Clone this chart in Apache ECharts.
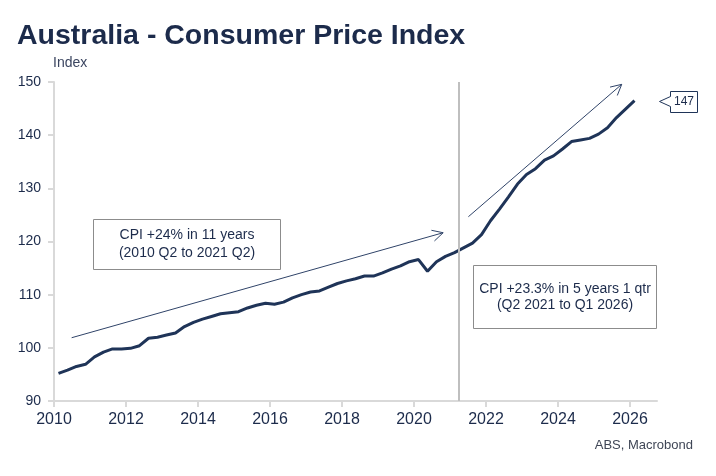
<!DOCTYPE html>
<html>
<head>
<meta charset="utf-8">
<script src="https://cdn.jsdelivr.net/npm/echarts@6/dist/echarts.min.js"></script>
<style>
  html, body { margin: 0; padding: 0; background: #fff; }
  #chart { width: 716px; height: 476px; }
</style>
</head>
<body>
<div id="chart"></div>
<script>
// quarterly CPI, 2010 Q1 .. 2026 Q1
const firstYear = 2010;
const cpi = [
  95.2, 95.8, 96.5, 96.9,
  98.3, 99.2, 99.8, 99.8,
  99.9, 100.4, 101.8, 102.0,
  102.4, 102.8, 104.0, 104.8,
  105.4, 105.9, 106.4, 106.6,
  106.8, 107.5, 108.0, 108.4,
  108.2, 108.6, 109.4, 110.0,
  110.5, 110.7, 111.4, 112.1,
  112.6, 113.0, 113.5, 113.5,
  114.1, 114.8, 115.4, 116.2,
  116.6, 114.4, 116.2, 117.2,
  117.9, 118.8, 119.7, 121.3,
  123.9, 126.1, 128.4, 130.8,
  132.6, 133.7, 135.3, 136.1,
  137.4, 138.8, 139.1, 139.4,
  140.2, 141.4, 143.3, 144.9,
  146.5
];
const yTicks = [90, 100, 110, 120, 130, 140, 150];
const breakYear = 2021.25;
const lastLabel = '147';

// arrows: [x1, y1, x2, y2] in year / index units
const arrows = [
  [2010.49, 101.9, 2020.81, 121.65],
  [2021.51, 124.66, 2025.77, 149.56]
];
// note boxes: centre in year / index units
const noteCentres = [[2013.69, 119.5], [2024.19, 109.65]];
const noteTexts = [
  'CPI +24% in 11 years\n(2010 Q2 to 2021 Q2)',
  'CPI +23.3% in 5 years 1 qtr\n(Q2 2021 to Q1 2026)'
];
const noteSizes = [[187, 50], [183, 63]];
const noteLineHeights = [18, 16];

const navy = '#1f3458';
const textNavy = '#1c2b4b';
const seriesData = cpi.map((v, i) => [firstYear + i * 0.25 + 0.125, v]);
const last = seriesData[seriesData.length - 1];

const chart = echarts.init(document.getElementById('chart'));

chart.setOption({
  animation: false,
  textStyle: { fontFamily: 'Liberation Sans' },
  grid: { left: 54, right: 59, top: 82, bottom: 75, containLabel: false },
  graphic: [
    {
      type: 'text', left: 17, top: 22,
      style: { text: 'Australia - Consumer Price Index', fontSize: 28.5, fontWeight: 'bold', fill: textNavy, fontFamily: 'Liberation Sans' }
    },
    {
      type: 'text', left: 53, top: 56,
      style: { text: 'Index', fontSize: 14, fill: '#3b4560', fontFamily: 'Liberation Sans' }
    },
    {
      type: 'text', right: 23, top: 439,
      style: { text: 'ABS, Macrobond', fontSize: 13, fill: '#3f4656', fontFamily: 'Liberation Sans' }
    }
  ],
  xAxis: {
    type: 'value',
    min: 2010,
    max: 2026.75,
    interval: 2,
    splitLine: { show: false },
    axisLine: { lineStyle: { color: '#d9d9d9', width: 2 } },
    axisTick: { length: 6, lineStyle: { color: '#d9d9d9', width: 2 } },
    axisLabel: {
      margin: 11, fontSize: 16, color: textNavy,
      formatter: v => (v % 2 === 0 ? String(v) : ''),
      showMaxLabel: false
    }
  },
  yAxis: {
    type: 'value',
    min: yTicks[0],
    max: yTicks[yTicks.length - 1],
    interval: 10,
    splitLine: { show: false },
    axisLine: { show: true, lineStyle: { color: '#d9d9d9', width: 2 } },
    axisTick: { show: true, length: 6, lineStyle: { color: '#d9d9d9', width: 2 } },
    axisLabel: { margin: 13, fontSize: 14, color: textNavy }
  },
  series: [
    {
      type: 'line',
      data: seriesData,
      showSymbol: false,
      lineStyle: { color: navy, width: 3 },
      z: 3,
      markLine: {
        silent: true,
        symbol: 'none',
        label: { show: false },
        lineStyle: { color: '#bfbfbf', width: 2, type: 'solid' },
        data: [{ xAxis: breakYear }]
      }
    },
    {
      // arrows
      type: 'custom',
      silent: true,
      data: arrows,
      encode: { x: [0, 2], y: [1, 3] },
      z: 2,
      renderItem: (params, api) => {
        const p1 = api.coord([api.value(0), api.value(1)]);
        const p2 = api.coord([api.value(2), api.value(3)]);
        const ang = Math.atan2(p2[1] - p1[1], p2[0] - p1[0]);
        const len = 12, spread = 0.48;
        const w1 = [p2[0] - len * Math.cos(ang - spread), p2[1] - len * Math.sin(ang - spread)];
        const w2 = [p2[0] - len * Math.cos(ang + spread), p2[1] - len * Math.sin(ang + spread)];
        const st = { stroke: '#2f4368', lineWidth: 1, fill: null };
        return {
          type: 'group',
          children: [
            { type: 'line', shape: { x1: p1[0], y1: p1[1], x2: p2[0], y2: p2[1] }, style: st },
            { type: 'polyline', shape: { points: [w1, p2, w2] }, style: st }
          ]
        };
      }
    },
    {
      // note boxes
      type: 'custom',
      silent: true,
      data: noteCentres,
      encode: { x: 0, y: 1 },
      z: 4,
      renderItem: (params, api) => {
        const c = api.coord([api.value(0), api.value(1)]);
        const [w, h] = noteSizes[params.dataIndex];
        const x0 = Math.round(c[0] - w / 2) + 0.5;
        const y0 = Math.round(c[1] - h / 2) + 0.5;
        return {
          type: 'group',
          children: [
            { type: 'rect', shape: { x: x0, y: y0, width: w, height: h }, style: { fill: '#fff', stroke: '#8c8c8c', lineWidth: 1 } },
            {
              type: 'text', x: x0 + w / 2, y: y0 + h / 2,
              style: {
                text: noteTexts[params.dataIndex], fontSize: 14, lineHeight: noteLineHeights[params.dataIndex],
                fill: textNavy, align: 'center', verticalAlign: 'middle', fontFamily: 'Liberation Sans'
              }
            }
          ]
        };
      }
    },
    {
      // callout for the latest value
      type: 'custom',
      silent: true,
      data: [last],
      encode: { x: 0, y: 1 },
      z: 4,
      renderItem: (params, api) => {
        const c = api.coord([api.value(0), api.value(1)]);
        const tx = Math.round(c[0] + 24) + 0.5;
        const ty = Math.round(c[1]) + 0.5;
        const bx = tx + 11, bw = 27, bh = 21;
        const pts = [[tx, ty], [bx, ty - 5], [bx, ty - 10], [bx + bw, ty - 10], [bx + bw, ty + 11], [bx, ty + 11], [bx, ty + 5]];
        return {
          type: 'group',
          children: [
            { type: 'polygon', shape: { points: pts }, style: { fill: '#fff', stroke: navy, lineWidth: 1 } },
            {
              type: 'text', x: bx + bw / 2, y: ty + 0.5,
              style: { text: lastLabel, fontSize: 12, fill: textNavy, align: 'center', verticalAlign: 'middle', fontFamily: 'Liberation Sans' }
            }
          ]
        };
      }
    }
  ]
});
</script>
</body>
</html>
